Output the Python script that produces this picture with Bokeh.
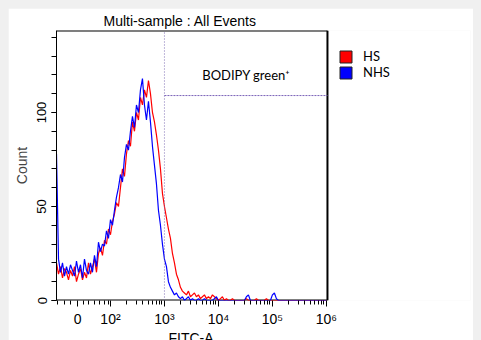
import numpy as np
from bokeh.plotting import figure
from bokeh.models import FixedTicker, Label, Legend, LegendItem, Range1d, Title
from bokeh.embed import file_html
from bokeh.resources import INLINE

# ---------------- data ----------------
# bin centres on the display (biexponential) axis, in decade units: 3.0 = 10^3
x_bins = np.linspace(1.0, 6.0, 136)

hs_counts = [20, 14, 18, 12, 17, 15, 11, 16, 13, 18,
             10, 14, 17, 11, 15, 12, 20, 14, 18, 22,
             15, 25, 28, 24, 32, 30, 38, 35, 42, 46,
             52, 50, 60, 70, 66, 78, 85, 82, 95, 90,
             100, 96, 108, 104, 112, 108, 117, 110, 100, 95,
             88, 80, 70, 57, 50, 44, 38, 33, 25, 20,
             14, 11, 7, 5, 4, 3, 5, 2, 3, 4,
             2, 3, 1, 2, 3, 1, 2, 1, 3, 2,
             1, 0, 1, 2, 0, 1, 0, 0, 1, 0,
             0, 0, 0, 0, 0, 1, 0, 0, 0, 0,
             1, 0, 0, 0, 0, 1, 0, 0, 0, 0,
             0, 0, 0, 0, 0, 0, 0, 0, 0, 0,
             0, 0, 0, 0, 0, 0, 0, 0, 0, 0,
             0, 0, 0, 0, 0, 0]

nhs_counts = [78, 22, 15, 20, 13, 18, 14, 19, 16, 13,
              21, 15, 19, 12, 22, 16, 14, 20, 15, 24,
              18, 31, 26, 30, 29, 37, 33, 43, 40, 48,
              55, 60, 67, 63, 76, 83, 80, 90, 98, 92,
              104, 100, 112, 118, 104, 96, 106, 95, 82, 72,
              62, 48, 40, 30, 22, 18, 10, 7, 5, 3,
              4, 2, 1, 2, 0, 1, 2, 0, 1, 0,
              0, 1, 0, 0, 1, 0, 0, 0, 0, 1,
              2, 0, 0, 0, 0, 0, 0, 0, 0, 0,
              0, 0, 0, 0, 0, 2, 3, 0, 0, 0,
              0, 0, 0, 0, 0, 0, 0, 0, 3, 4,
              1, 0, 0, 0, 0, 0, 0, 0, 0, 0,
              0, 0, 0, 0, 0, 0, 0, 0, 0, 0,
              0, 0, 0, 0, 0, 0]

series_names = ["HS", "NHS"]
series_colors = ["#ff0000", "#0000ff"]

x_tick_pos = [1.39, 2.0, 3.0, 4.0, 5.0, 6.0]
x_tick_labels = ["0", "10²", "10³", "10⁴", "10⁵", "10⁶"]
x_lin_minor = [1.02, 1.15, 1.26, 1.50, 1.59, 1.70, 1.80, 1.89, 1.96]
y_tick_pos = [0, 50, 100]
y_minor_pos = [0, 10, 20, 30, 40, 50, 60, 70, 80, 90, 100, 110, 120, 130, 140]

gate_x = 3.0      # 10^3
gate_y = 109
gate_label = "BODIPY green⁺"
title_text = "Multi-sample : All Events"
x_label = "FITC-A"
y_label = "Count"

# axis box ends at X_BOX; the frame continues to the right to hold the legend
X_MIN, X_BOX, X_FRAME_END = 1.0, 6.02, 8.67
Y_MAX = 143.6

# ---------------- figure ----------------
p = figure(frame_width=414, frame_height=270,
           x_range=Range1d(X_MIN, X_FRAME_END), y_range=Range1d(0, Y_MAX),
           output_backend="svg", toolbar_location=None,
           min_border_left=48, min_border_right=11,
           min_border_top=22, min_border_bottom=40)
p.background_fill_color = "white"
p.border_fill_color = "white"
p.outline_line_color = None
p.xgrid.visible = False
p.ygrid.visible = False

FONT = "Liberation Sans"

# title
p.title.text = title_text
p.title.align = "left"
p.title.offset = 47
p.title.standoff = 4
p.title.text_font = FONT
p.title.text_font_size = "14px"
p.title.text_font_style = "normal"
p.title.text_color = "black"

# x axis
log_minor = [d + np.log10(k) for d in range(2, 6) for k in range(2, 10)]
xa = p.xaxis[0]
xa.ticker = FixedTicker(ticks=x_tick_pos, minor_ticks=x_lin_minor + log_minor)
xa.major_label_overrides = {t: l for t, l in zip(x_tick_pos, x_tick_labels)}
xa.major_tick_out = 6
xa.major_tick_in = 0
xa.minor_tick_out = 4
xa.minor_tick_in = 0
xa.major_label_standoff = 4
xa.major_label_text_font = FONT
xa.major_label_text_font_size = "14px"
xa.major_label_text_color = "black"
xa.axis_line_color = None
xa.major_tick_line_color = "black"
xa.minor_tick_line_color = "black"

# x axis label, placed under the plot box (not the whole frame)
p.add_layout(Title(text=x_label, align="left", offset=112, standoff=-4,
                   text_font=FONT, text_font_size="14px",
                   text_font_style="normal", text_color="black"), "below")

# y axis
ya = p.yaxis[0]
ya.ticker = FixedTicker(ticks=y_tick_pos, minor_ticks=y_minor_pos)
ya.major_tick_out = 5
ya.major_tick_in = 0
ya.minor_tick_out = 5
ya.minor_tick_in = 0
ya.major_label_orientation = "parallel"
ya.major_label_standoff = 5
ya.major_label_text_font = FONT
ya.major_label_text_font_size = "13px"
ya.major_label_text_color = "black"
ya.axis_label = y_label
ya.axis_label_text_font = FONT
ya.axis_label_text_font_size = "14px"
ya.axis_label_text_font_style = "normal"
ya.axis_label_standoff = 5
ya.axis_line_color = "black"

# plot box (bottom, top, right edges)
p.segment(x0=[X_MIN, X_MIN, X_BOX], y0=[0, Y_MAX, 0],
          x1=[X_BOX, X_BOX, X_BOX], y1=[0, Y_MAX, Y_MAX],
          line_color="black", line_width=2)

# histogram lines
for counts, col in zip([hs_counts, nhs_counts], series_colors):
    p.line(x_bins, counts, line_color=col, line_width=1.2)

# gate
p.segment(x0=[gate_x], y0=[0], x1=[gate_x], y1=[Y_MAX],
          line_color="#7f70b4", line_dash="1 2", line_width=1)
p.segment(x0=[gate_x], y0=[gate_y], x1=[X_BOX], y1=[gate_y],
          line_color="#7a62b8", line_dash="2 1", line_width=1)
p.add_layout(Label(x=3.70, y=120, text=gate_label, text_font="Lato",
                   text_font_size="13px", text_baseline="middle",
                   text_color="black"))

# legend with square swatches
nan = float("nan")
items = []
for name, col in zip(series_names, series_colors):
    sw = p.quad(left=[nan], right=[nan], bottom=[nan], top=[nan],
                fill_color=col, line_color="#222222", line_width=1)
    items.append(LegendItem(label=name, renderers=[sw]))
legend = Legend(items=items, location=(282, 220), orientation="vertical",
                glyph_width=15, glyph_height=15, label_height=13,
                spacing=-2, padding=0, margin=0, label_standoff=10,
                label_text_font="Lato", label_text_font_size="13px",
                label_text_color="black",
                border_line_color=None, background_fill_alpha=0)
p.add_layout(legend, "center")

html = None
try:
    from bokeh.core.templates import get_env
    tmpl = get_env().from_string(
        '{% extends "file.html" %}{% block preamble %}'
        '<style>html,body{background:#f0f0f0 !important;}'
        'body{margin:8px !important;height:auto !important;}</style>{% endblock %}')
    html = file_html(p, INLINE, template=tmpl)
except Exception:
    html = file_html(p, INLINE)
open("out.html", "w").write(html)
